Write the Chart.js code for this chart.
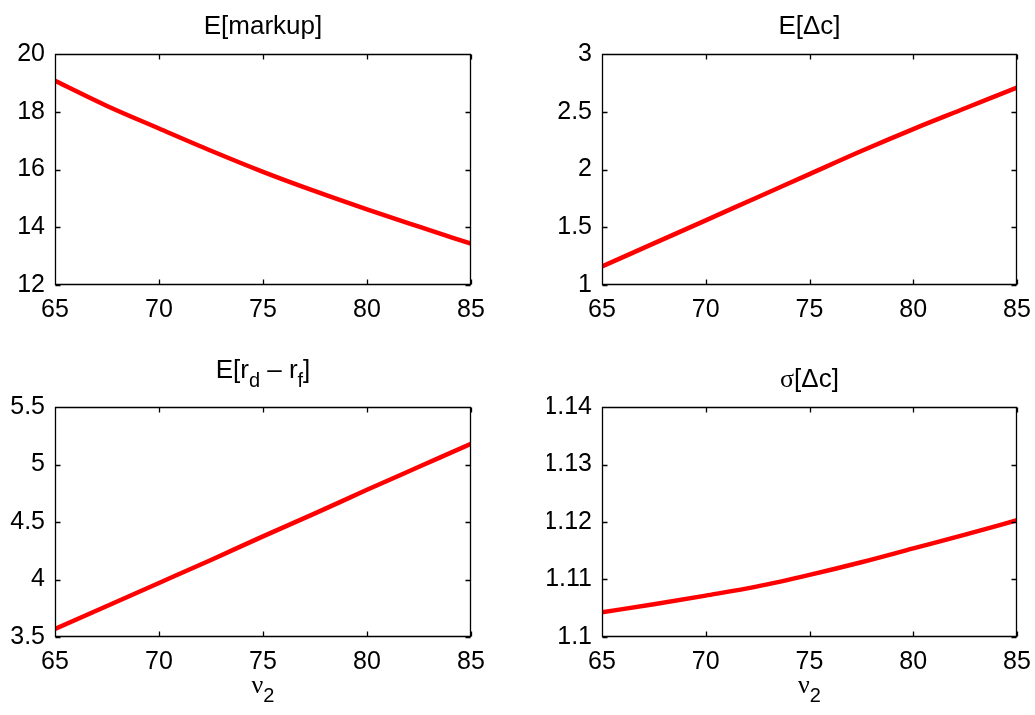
<!DOCTYPE html>
<html>
<head>
<meta charset="utf-8">
<script src="https://cdn.jsdelivr.net/npm/chart.js@4/dist/chart.umd.min.js"></script>
<style>
  html, body { margin: 0; padding: 0; background: #fff; }
  #wrap { position: relative; width: 1035px; height: 715px; overflow: hidden; }
  canvas { position: absolute; left: 0; top: 0; }
</style>
</head>
<body>
<div id="wrap">
  <canvas id="c1" width="1035" height="715"></canvas>
  <canvas id="c2" width="1035" height="715"></canvas>
  <canvas id="c3" width="1035" height="715"></canvas>
  <canvas id="c4" width="1035" height="715"></canvas>
</div>
<script>
// ---- data ----
const nu2 = [65, 67.5, 70, 72.5, 75, 77.5, 80, 82.5, 85];
const expMarkup = [19.07, 18.20, 17.42, 16.65, 15.92, 15.25, 14.62, 14.02, 13.43];
const expDeltaC = [1.16, 1.36, 1.56, 1.76, 1.96, 2.16, 2.35, 2.53, 2.71];
const expRdRf   = [3.57, 3.77, 3.97, 4.17, 4.375, 4.575, 4.78, 4.98, 5.18];
const sdDeltaC  = [1.1043, 1.1057, 1.1072, 1.1088, 1.1108, 1.1130, 1.1154, 1.1178, 1.1203];

const xTickValues = [65, 70, 75, 80, 85];
const yTicksMarkup = [12, 14, 16, 18, 20];
const yTicksDeltaC = [1, 1.5, 2, 2.5, 3];
const yTicksRdRf   = [3.5, 4, 4.5, 5, 5.5];
const yTicksSdDc   = [1.1, 1.11, 1.12, 1.13, 1.14];

const FONT = '"Liberation Sans", Arial, Helvetica, sans-serif';
const GREEK = '"Liberation Serif", "DejaVu Serif", serif';

const panels = [
  { id: 'c1', values: expMarkup, yTicks: yTicksMarkup,
    area: { left: 55, top: 54, right: 471, bottom: 285 },
    title: [{ t: 'E[markup]' }], titleOffset: 20, xlabel: null },
  { id: 'c2', values: expDeltaC, yTicks: yTicksDeltaC,
    area: { left: 602, top: 54, right: 1017, bottom: 285 },
    title: [{ t: 'E[\u0394c]' }], titleOffset: 20, xlabel: null },
  { id: 'c3', values: expRdRf, yTicks: yTicksRdRf,
    area: { left: 55, top: 407, right: 471, bottom: 637 },
    title: [{ t: 'E[r' }, { t: 'd', sub: true }, { t: ' \u2013 r' }, { t: 'f', sub: true }, { t: ']' }],
    titleOffset: 29, xlabel: [{ t: '\u03bd', greek: true }, { t: '2', sub: true }] },
  { id: 'c4', values: sdDeltaC, yTicks: yTicksSdDc,
    area: { left: 602, top: 407, right: 1017, bottom: 637 },
    title: [{ t: '\u03c3', greek: true }, { t: '[\u0394c]' }], titleOffset: 20,
    xlabel: [{ t: '\u03bd', greek: true }, { t: '2', sub: true }] }
];

const Y_AXIS_W = 55;   // room for y tick labels
const X_AXIS_H = 40;   // room for x tick labels

function drawRich(ctx, segs, cx, baseline, size) {
  const subSize = Math.round(size * 0.75);
  const fontFor = s => (s.sub ? subSize : size) + 'px ' + (s.greek ? GREEK : FONT);
  let total = 0;
  segs.forEach(s => { ctx.font = fontFor(s); total += ctx.measureText(s.t).width; });
  let x = cx - total / 2;
  ctx.textAlign = 'left';
  ctx.textBaseline = 'alphabetic';
  ctx.fillStyle = '#000';
  segs.forEach(s => {
    ctx.font = fontFor(s);
    ctx.fillText(s.t, x, baseline + (s.sub ? size * 0.36 : 0));
    x += ctx.measureText(s.t).width;
  });
}

const boxPlugin = {
  id: 'matlabBox',
  afterDatasetsDraw(chart, args, opts) {
    const { ctx, chartArea: a, scales } = chart;
    ctx.save();
    ctx.strokeStyle = '#000';
    ctx.lineWidth = 1.3;
    const L = Math.round(a.left) + 0.5, R = Math.round(a.right) - 0.5;
    const T = Math.round(a.top) + 0.5, B = Math.round(a.bottom) - 0.5;
    ctx.beginPath();
    ctx.rect(L, T, R - L, B - T);
    const tl = 5;
    scales.x.ticks.forEach(tk => {
      const px = Math.round(scales.x.getPixelForValue(tk.value)) + 0.5;
      ctx.moveTo(px, B); ctx.lineTo(px, B - tl);
      ctx.moveTo(px, T); ctx.lineTo(px, T + tl);
    });
    scales.y.ticks.forEach(tk => {
      const py = Math.round(scales.y.getPixelForValue(tk.value)) + 0.5;
      ctx.moveTo(L, py); ctx.lineTo(L + tl, py);
      ctx.moveTo(R, py); ctx.lineTo(R - tl, py);
    });
    ctx.stroke();
    ctx.restore();
  },
  afterDraw(chart, args, opts) {
    const { ctx, chartArea: a } = chart;
    const p = opts.panel;
    const cx = (a.left + a.right) / 2;
    ctx.save();
    drawRich(ctx, p.title, cx, a.top - p.titleOffset, 26);
    if (p.xlabel) drawRich(ctx, p.xlabel, cx, a.bottom + 56, 26);
    ctx.restore();
  }
};

function fmt(v) { return String(Number(v.toFixed(4))); }

panels.forEach(p => {
  const W = 1035, H = 715;
  new Chart(document.getElementById(p.id), {
    type: 'line',
    data: {
      datasets: [{
        data: nu2.map((x, i) => ({ x: x, y: p.values[i] })),
        borderColor: '#ff0000',
        borderWidth: 4.5,
        pointRadius: 0,
        fill: false,
        cubicInterpolationMode: 'monotone',
        clip: 0
      }]
    },
    plugins: [boxPlugin],
    options: {
      responsive: false,
      animation: false,
      events: [],
      layout: { padding: {
        left: p.area.left - Y_AXIS_W,
        top: p.area.top,
        right: W - p.area.right,
        bottom: H - p.area.bottom - X_AXIS_H } },
      plugins: {
        legend: { display: false },
        tooltip: { enabled: false },
        title: { display: false },
        matlabBox: { panel: p }
      },
      scales: {
        x: {
          type: 'linear',
          min: xTickValues[0], max: xTickValues[xTickValues.length - 1],
          afterBuildTicks: s => { s.ticks = xTickValues.map(v => ({ value: v })); },
          afterFit: s => { s.height = X_AXIS_H; s.paddingLeft = 0; s.paddingRight = 0; },
          grid: { display: false, drawTicks: false },
          border: { display: false },
          ticks: { color: '#000', font: { family: FONT, size: 25 }, padding: 10, maxRotation: 0, autoSkip: false, callback: v => fmt(v) }
        },
        y: {
          type: 'linear',
          min: p.yTicks[0], max: p.yTicks[p.yTicks.length - 1],
          afterBuildTicks: s => { s.ticks = p.yTicks.map(v => ({ value: v })); },
          afterFit: s => { s.width = Y_AXIS_W; s.paddingTop = 0; s.paddingBottom = 0; },
          grid: { display: false, drawTicks: false },
          border: { display: false },
          ticks: { color: '#000', font: { family: FONT, size: 25 }, padding: 10, autoSkip: false, callback: v => fmt(v) }
        }
      }
    }
  });
});
</script>
</body>
</html>
